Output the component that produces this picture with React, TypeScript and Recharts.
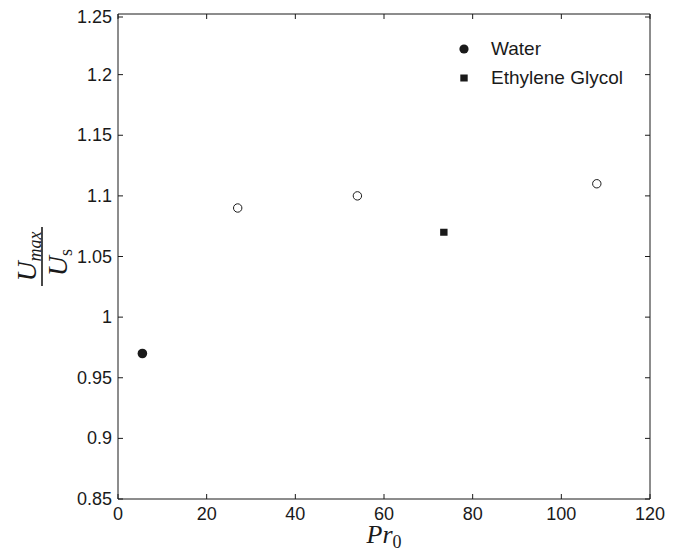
import React from "react"
import {
  ScatterChart,
  Scatter,
  XAxis,
  YAxis,
  Legend,
} from "recharts"

type Pt = { x: number; y: number }

// Pr0 vs Umax/Us
const waterData: Pt[] = [{ x: 5.5, y: 0.97 }]
const glycolData: Pt[] = [{ x: 73.5, y: 1.07 }]
const otherData: Pt[] = [
  { x: 27, y: 1.09 },
  { x: 54, y: 1.1 },
  { x: 108, y: 1.11 },
]

const legendOrder = ["Water", "Ethylene Glycol"]
const xTicks = [0, 20, 40, 60, 80, 100, 120]
const yTicks = [0.85, 0.9, 0.95, 1, 1.05, 1.1, 1.15, 1.2, 1.25]

const INK = "#1a1a1a"
const SANS = "'Liberation Sans', Arial, Helvetica, sans-serif"
const SERIF = "'Liberation Serif', 'Times New Roman', serif"

const LeftTick = (props: any) => {
  const { x, y, payload } = props
  return (
    <g>
      <line x1={x} x2={x + 5} y1={y} y2={y} stroke={INK} />
      <text x={x - 6} y={y} dy={6} textAnchor="end" fontSize={18} fontFamily={SANS} fill={INK}>
        {payload.value}
      </text>
    </g>
  )
}

const BottomTick = (props: any) => {
  const { x, y, payload } = props
  return (
    <g>
      <line x1={x} x2={x} y1={y} y2={y - 5} stroke={INK} />
      <text x={x} y={y} dy={21} textAnchor="middle" fontSize={18} fontFamily={SANS} fill={INK}>
        {payload.value}
      </text>
    </g>
  )
}

const RightTick = (props: any) => {
  const { x, y } = props
  return <line x1={x} x2={x - 5} y1={y} y2={y} stroke={INK} />
}

const TopTick = (props: any) => {
  const { x, y } = props
  return <line x1={x} x2={x} y1={y} y2={y + 5} stroke={INK} />
}

const filledCircle = (p: any) => <circle cx={p.cx} cy={p.cy} r={4.8} fill={INK} />
const openCircle = (p: any) => (
  <circle cx={p.cx} cy={p.cy} r={4.2} fill="#fff" stroke={INK} strokeWidth={1} />
)
const filledSquare = (p: any) => (
  <rect x={p.cx - 3.7} y={p.cy - 3.5} width={7.4} height={7} fill={INK} />
)

const XLabel = (props: any) => {
  const { x, y, width } = props.viewBox
  return (
    <text x={x + width / 2} y={y + 44} textAnchor="middle" fontFamily={SERIF} fill={INK}>
      <tspan fontSize={26} fontStyle="italic">Pr</tspan>
      <tspan fontSize={18} dy={5}>0</tspan>
    </text>
  )
}

const YLabel = (props: any) => {
  const { x, y, height } = props.viewBox
  const cx = x - 16
  const cy = y + height / 2
  return (
    <g transform={`translate(${cx},${cy}) rotate(-90)`} fontFamily={SERIF} fill={INK}>
      <text x={0} y={-6} textAnchor="middle">
        <tspan fontSize={28} fontStyle="italic">U</tspan>
        <tspan fontSize={18} fontStyle="italic" dy={5}>max</tspan>
      </text>
      <line x1={-29.5} x2={29.5} y1={0} y2={0} stroke={INK} strokeWidth={1.6} />
      <text x={-6} y={25} textAnchor="middle">
        <tspan fontSize={28} fontStyle="italic">U</tspan>
        <tspan fontSize={18} dy={5}>s</tspan>
      </text>
    </g>
  )
}

const renderLegend = (props: any) => {
  const items = (props.payload || [])
    .filter((d: any) => legendOrder.includes(d.value))
    .sort((a: any, b: any) => legendOrder.indexOf(a.value) - legendOrder.indexOf(b.value))
  return (
    <div style={{ fontFamily: SANS, fontSize: 19, color: INK }}>
      {items.map((d: any) => (
        <div key={d.value} style={{ display: "flex", alignItems: "center", height: 29 }}>
          <svg width={12} height={12}>
            {d.type === "square" ? (
              <rect x={2.3} y={2.5} width={7.4} height={7} fill={INK} />
            ) : (
              <circle cx={6} cy={6} r={4.6} fill={INK} />
            )}
          </svg>
          <span style={{ marginLeft: 21 }}>{d.value}</span>
        </div>
      ))}
    </div>
  )
}

export default function App() {
  return (
    <div style={{ width: 677, height: 546, background: "#fff" }}>
      <ScatterChart width={677} height={546} margin={{ top: 5, right: 34, bottom: 0, left: 50 }}>
        <XAxis
          type="number"
          dataKey="x"
          domain={[0, 120]}
          ticks={xTicks}
          allowDataOverflow
          height={55}
          tickSize={0}
          tickMargin={0}
          tickLine={false}
          stroke={INK}
          tick={<BottomTick />}
          label={<XLabel />}
        />
        <XAxis
          xAxisId="top"
          orientation="top"
          type="number"
          dataKey="x"
          domain={[0, 120]}
          ticks={xTicks}
          allowDataOverflow
          height={1}
          tickSize={0}
          tickMargin={0}
          tickLine={false}
          stroke={INK}
          tick={<TopTick />}
        />
        <YAxis
          type="number"
          dataKey="y"
          domain={[0.85, 1.25]}
          ticks={yTicks}
          allowDataOverflow
          width={60}
          tickSize={0}
          tickMargin={0}
          tickLine={false}
          stroke={INK}
          tick={<LeftTick />}
          label={<YLabel />}
        />
        <YAxis
          yAxisId="right"
          orientation="right"
          type="number"
          dataKey="y"
          domain={[0.85, 1.25]}
          ticks={yTicks}
          allowDataOverflow
          width={1}
          tickSize={0}
          tickMargin={0}
          tickLine={false}
          stroke={INK}
          tick={<RightTick />}
        />
        <Legend
          layout="vertical"
          align="center"
          verticalAlign="middle"
          content={renderLegend}
          wrapperStyle={{ top: 26, left: 450, width: 220 }}
        />
        <Scatter name="Water" data={waterData} legendType="circle" shape={filledCircle} isAnimationActive={false} />
        <Scatter name="Ethylene Glycol" data={glycolData} legendType="square" shape={filledSquare} isAnimationActive={false} />
        <Scatter
          name="other"
          data={otherData}
          xAxisId="top"
          yAxisId="right"
          legendType="none"
          shape={openCircle}
          isAnimationActive={false}
        />
      </ScatterChart>
    </div>
  )
}
